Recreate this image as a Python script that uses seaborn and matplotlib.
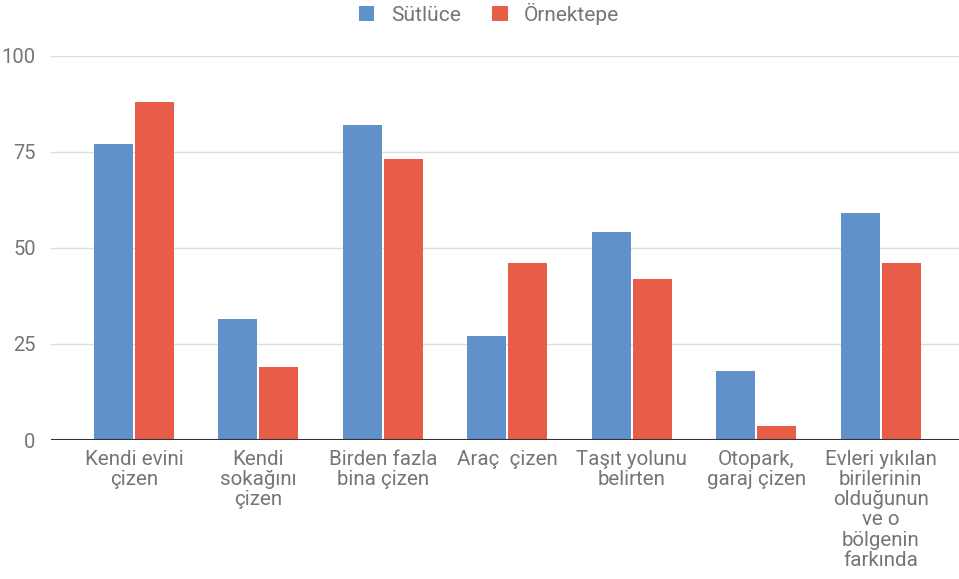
import seaborn as sns
import matplotlib.pyplot as plt
import pandas as pd

categories = [
    "Kendi evini\nçizen",
    "Kendi\nsokağını\nçizen",
    "Birden fazla\nbina çizen",
    "Araç  çizen",
    "Taşıt yolunu\nbelirten",
    "Otopark,\ngaraj çizen",
    "Evleri yıkılan\nbirilerinin\nolduğunun\nve o\nbölgenin\nfarkında",
]
sutluce = [77, 31.5, 82, 27, 54, 18, 59]
ornektepe = [88, 19, 73, 46, 42, 3.6, 46]
series = ["Sütlüce", "Örnektepe"]
yticks = [0, 25, 50, 75, 100]

df = pd.DataFrame({
    "kategori": categories * 2,
    "deger": sutluce + ornektepe,
    "grup": [series[0]] * len(categories) + [series[1]] * len(categories),
})

sns.set_style("white")
plt.rcParams["font.family"] = ["Roboto", "DejaVu Sans"]
grey = "#757575"

fig = plt.figure(figsize=(9.59, 5.79), dpi=100)
ax = fig.add_axes([51 / 959, 1 - 440 / 579, 908 / 959, (440 - 55.5) / 579])

sns.barplot(
    data=df, x="kategori", y="deger", hue="grup",
    palette=["#6191cb", "#e75d48"], width=0.66, gap=0.05,
    saturation=1, linewidth=0, ax=ax,
)

ax.set_ylim(0, 100)
ax.set_xlim(-0.667, 6.63)
ax.set_yticks(yticks)
ax.yaxis.grid(True, color="#dddddd", linewidth=1)
ax.set_axisbelow(True)
ax.axhline(0, color="#333333", linewidth=1.5, zorder=5)
for side in ["top", "right", "left", "bottom"]:
    ax.spines[side].set_visible(False)
ax.set_xlabel("")
ax.set_ylabel("")
ax.tick_params(axis="x", length=0, labelsize=14.8, colors=grey, pad=7)
ax.tick_params(axis="y", length=0, labelsize=14.5, colors=grey, pad=11)
for lbl in ax.get_xticklabels():
    lbl.set_linespacing(1.08)

ax.legend(
    loc="center", bbox_to_anchor=(489 / 959, 1 - 14 / 579),
    bbox_transform=fig.transFigure, ncol=2,
    frameon=False, fontsize=15, labelcolor=grey, handlelength=0.75,
    handleheight=0.75, columnspacing=1.5, handletextpad=0.8,
)

fig.savefig("out.png", dpi=100)
